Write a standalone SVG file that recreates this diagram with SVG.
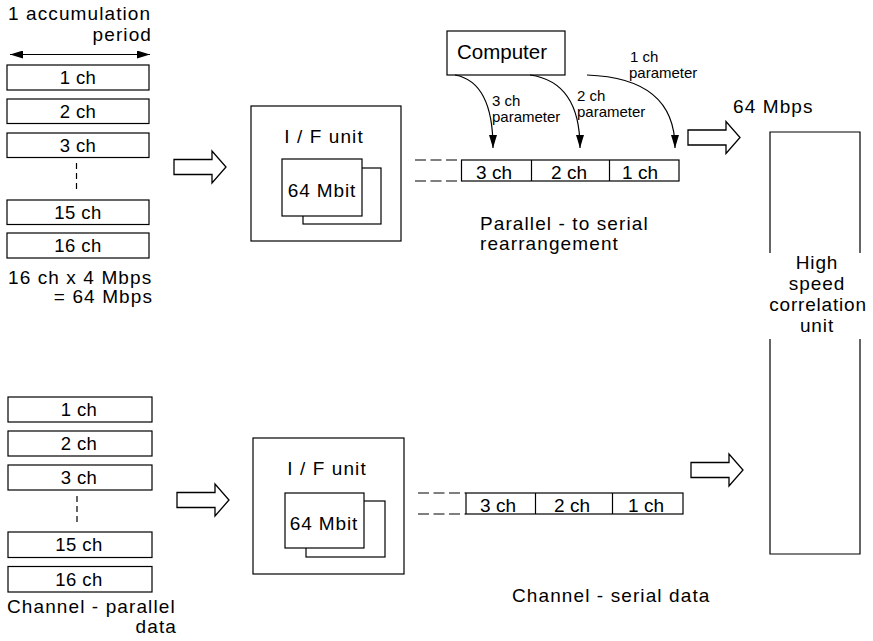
<svg xmlns="http://www.w3.org/2000/svg" width="873" height="641" viewBox="0 0 873 641">
<defs>
<style>
text{font-family:"Liberation Sans",Arial,Helvetica,sans-serif;fill:#000}
.t{font-size:19px;letter-spacing:1.1px}
.b{font-size:18.5px;letter-spacing:0.4px;text-anchor:middle}
.c{font-size:19px;text-anchor:middle}
.p{font-size:15px}
.bx{fill:#fff;stroke:#000;stroke-width:1.2}
.ln{fill:none;stroke:#000;stroke-width:1.2}
.dash{fill:none;stroke:#000;stroke-width:1.2;stroke-dasharray:11 4.5}
.hol{fill:#fff;stroke:#000;stroke-width:1.3;stroke-linejoin:miter}
</style>
<marker id="ah" viewBox="0 0 13 8" refX="13" refY="4" markerWidth="13" markerHeight="8" markerUnits="userSpaceOnUse" orient="auto">
<path d="M0,0 L13,4 L0,8 Z" fill="#000"/>
</marker>
<marker id="ahs" viewBox="0 0 13 8" refX="0" refY="4" markerWidth="13" markerHeight="8" markerUnits="userSpaceOnUse" orient="auto">
<path d="M13,0 L0,4 L13,8 Z" fill="#000"/>
</marker>
<path id="hollow" d="M0,-7.5 H38 V-16 L52,0 L38,16 V7.5 H0 Z"/>
</defs>
<rect width="873" height="641" fill="#fff"/>

<!-- top-left parallel channels -->
<g id="period-label">
<text class="t" x="8" y="20">1 accumulation</text>
<text class="t" x="152" y="41" text-anchor="end">period</text>
<line class="ln" x1="10" y1="54.5" x2="150" y2="54.5" marker-start="url(#ahs)" marker-end="url(#ah)"/>
</g>
<g id="top-ch1"><rect class="bx" x="7" y="65" width="142" height="25"/><text class="b" x="78" y="84">1 ch</text></g>
<g id="top-ch2"><rect class="bx" x="7" y="99" width="142" height="24.5"/><text class="b" x="78" y="118">2 ch</text></g>
<g id="top-ch3"><rect class="bx" x="7" y="133" width="142" height="24.5"/><text class="b" x="78" y="152">3 ch</text></g>
<line class="ln" x1="76.5" y1="163" x2="76.5" y2="192" stroke-dasharray="6 4"/>
<g id="top-ch15"><rect class="bx" x="7" y="200" width="142" height="24.5"/><text class="b" x="78" y="219">15 ch</text></g>
<g id="top-ch16"><rect class="bx" x="7" y="233" width="142" height="25"/><text class="b" x="78" y="252">16 ch</text></g>
<g id="rate-label">
<text class="t" x="8" y="284">16 ch x 4 Mbps</text>
<text class="t" x="153" y="303" text-anchor="end">= 64 Mbps</text>
</g>

<!-- top I/F unit -->
<g id="top-if">
<rect class="bx" x="251" y="106" width="150" height="135"/>
<text class="t" x="324" y="143" text-anchor="middle">I / F unit</text>
<rect class="bx" x="303" y="168" width="78" height="56"/>
<rect class="bx" x="282" y="159" width="80" height="57"/>
<text class="t" x="322" y="197" text-anchor="middle" style="letter-spacing:0.9px">64 Mbit</text>
</g>

<!-- top serial bar -->
<g id="top-bar">
<rect class="bx" x="461.5" y="160" width="217.5" height="21"/>
<line class="ln" x1="531.5" y1="160" x2="531.5" y2="181"/>
<line class="ln" x1="609.5" y1="160" x2="609.5" y2="181"/>
<text class="c" x="494" y="179">3 ch</text>
<text class="c" x="569" y="179">2 ch</text>
<text class="c" x="640" y="179">1 ch</text>
</g>

<g id="computer">
<rect class="bx" x="447" y="31" width="118" height="44"/>
<text x="457" y="59" style="font-size:20.5px">Computer</text>
</g>

<g id="param-labels">
<text class="p" x="492" y="106">3 ch</text>
<text class="p" x="492" y="122">parameter</text>
<text class="p" x="577" y="101">2 ch</text>
<text class="p" x="577" y="117">parameter</text>
<text class="p" x="630" y="62">1 ch</text>
<text class="p" x="629" y="78">parameter</text>
</g>

<g id="top-note">
<text class="t" x="480" y="230">Parallel - to serial</text>
<text class="t" x="480" y="250">rearrangement</text>
</g>

<g id="rate-out"><text class="t" x="733" y="113">64 Mbps</text></g>

<!-- correlation unit -->
<g id="correlator">
<path class="ln" d="M770,253 V132 H860 V253"/>
<path class="ln" d="M770,339 V554 H860 V339"/>
<text class="t" x="817" y="269" text-anchor="middle" style="letter-spacing:0.9px">High</text>
<text class="t" x="817" y="290" text-anchor="middle" style="letter-spacing:0.9px">speed</text>
<text class="t" x="818" y="311" text-anchor="middle" style="letter-spacing:0.8px">correlation</text>
<text class="t" x="817" y="332" text-anchor="middle" style="letter-spacing:0.9px">unit</text>
</g>

<!-- bottom parallel channels -->
<g id="bot-ch1"><rect class="bx" x="8" y="397" width="144" height="25"/><text class="b" x="79" y="416">1 ch</text></g>
<g id="bot-ch2"><rect class="bx" x="8" y="431" width="144" height="25"/><text class="b" x="79" y="450">2 ch</text></g>
<g id="bot-ch3"><rect class="bx" x="8" y="465" width="144" height="25"/><text class="b" x="79" y="484">3 ch</text></g>
<line class="ln" x1="77" y1="496" x2="77" y2="524" stroke-dasharray="6 4"/>
<g id="bot-ch15"><rect class="bx" x="8" y="532" width="144" height="25.5"/><text class="b" x="79" y="551">15 ch</text></g>
<g id="bot-ch16"><rect class="bx" x="8" y="566.5" width="144" height="25.5"/><text class="b" x="79" y="586">16 ch</text></g>
<g id="bot-label">
<text class="t" x="7" y="613">Channel - parallel</text>
<text class="t" x="177" y="633" text-anchor="end">data</text>
</g>

<!-- bottom I/F unit -->
<g id="bot-if">
<rect class="bx" x="253" y="438" width="151" height="136"/>
<text class="t" x="327" y="475" text-anchor="middle">I / F unit</text>
<rect class="bx" x="306" y="501" width="79" height="56"/>
<rect class="bx" x="285" y="493" width="79" height="55"/>
<text class="t" x="324" y="530" text-anchor="middle" style="letter-spacing:0.9px">64 Mbit</text>
</g>

<g id="bot-bar">
<rect class="bx" x="466" y="493" width="217" height="21"/>
<line class="ln" x1="535.5" y1="493" x2="535.5" y2="514"/>
<line class="ln" x1="612.5" y1="493" x2="612.5" y2="514"/>
<text class="c" x="498" y="512">3 ch</text>
<text class="c" x="572" y="512">2 ch</text>
<text class="c" x="646" y="512">1 ch</text>
</g>

<g id="bot-note"><text class="t" x="512" y="602">Channel - serial data</text></g>

<!-- connectors -->
<g id="connectors">
<use href="#hollow" class="hol" transform="translate(174,167)"/>
<use href="#hollow" class="hol" transform="translate(177,500)"/>
<use href="#hollow" class="hol" transform="translate(688,137.5)"/>
<use href="#hollow" class="hol" transform="translate(691,470)"/>
<path class="dash" d="M415,160 H461 M415,181 H461"/>
<path class="dash" d="M418,493 H466 M418,514 H466"/>
<path class="ln" d="M455,75 Q493,82 493,148" marker-end="url(#ah)"/>
<path class="ln" d="M530,75 Q580,82 580,148" marker-end="url(#ah)"/>
<path class="ln" d="M587,75 Q675,78 675,148" marker-end="url(#ah)"/>
</g>
</svg>
